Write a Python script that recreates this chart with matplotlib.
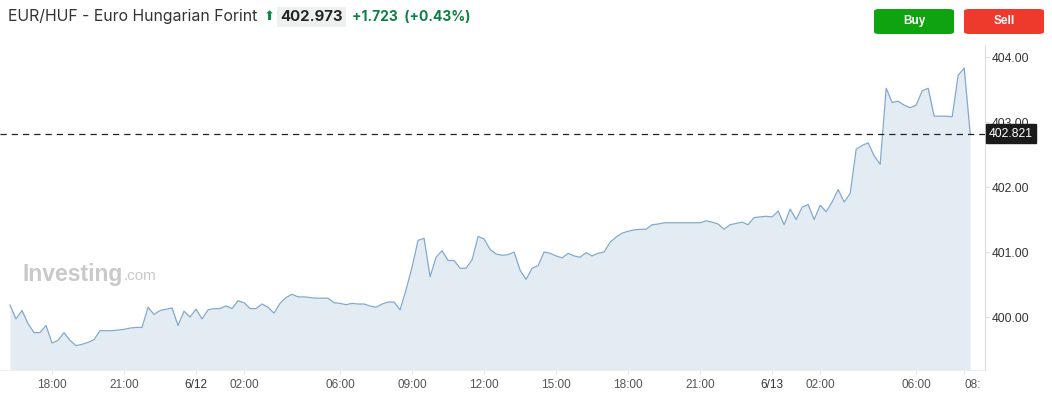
import matplotlib
matplotlib.use('Agg')
import matplotlib.pyplot as plt
import pandas as pd
from matplotlib.patches import FancyBboxPatch

# EUR/HUF, 15 minute closes (6/11 16:15 -> 6/13 08:15)
start = '2024-06-11 16:15'
prices = [
    400.185, 399.97, 400.10, 399.90, 399.76, 399.76, 399.87, 399.60, 399.64, 399.76,
    399.64, 399.56, 399.58, 399.61, 399.65, 399.79, 399.79, 399.79, 399.80, 399.81,
    399.83, 399.84, 399.84, 400.15, 400.04, 400.10, 400.12, 400.14, 399.87, 400.09,
    400.00, 400.12, 399.97, 400.11, 400.13, 400.13, 400.17, 400.13, 400.25, 400.22,
    400.13, 400.13, 400.20, 400.15, 400.06, 400.21, 400.30, 400.35, 400.31, 400.31,
    400.30, 400.29, 400.29, 400.29, 400.22, 400.21, 400.19, 400.21, 400.20, 400.20,
    400.17, 400.15, 400.20, 400.23, 400.23, 400.11, 400.42, 400.77, 401.18, 401.21,
    400.62, 400.92, 401.02, 400.87, 400.87, 400.75, 400.75, 400.88, 401.24, 401.20,
    401.04, 400.97, 400.95, 400.96, 401.00, 400.72, 400.58, 400.75, 400.79, 401.00,
    400.98, 400.94, 400.91, 400.98, 400.94, 400.92, 400.99, 400.94, 400.98, 401.00,
    401.15, 401.23, 401.29, 401.32, 401.34, 401.35, 401.35, 401.42, 401.43, 401.45,
    401.45, 401.45, 401.45, 401.45, 401.45, 401.45, 401.48, 401.46, 401.43, 401.35,
    401.42,
    401.44, 401.46, 401.42, 401.53, 401.54, 401.55, 401.54, 401.63, 401.42, 401.66,
    401.50, 401.69, 401.73, 401.50, 401.72, 401.62, 401.77, 401.96, 401.77, 401.90,
    402.58, 402.64, 402.68, 402.48, 402.35, 403.52, 403.30, 403.32, 403.26, 403.22,
    403.26, 403.48, 403.52, 403.09, 403.09, 403.09, 403.08, 403.72, 403.83, 402.821,
]
last_price = 402.821

x_ticks = ['2024-06-11 18:00', '2024-06-11 21:00', '2024-06-12 00:00', '2024-06-12 02:00',
           '2024-06-12 06:00', '2024-06-12 09:00', '2024-06-12 12:00', '2024-06-12 15:00',
           '2024-06-12 18:00', '2024-06-12 21:00', '2024-06-13 00:00', '2024-06-13 02:00',
           '2024-06-13 06:00', '2024-06-13 08:00']
x_labels = ['18:00', '21:00', '6/12', '02:00', '06:00', '09:00', '12:00', '15:00',
            '18:00', '21:00', '6/13', '02:00', '06:00', '08:']
y_ticks = [400, 401, 402, 403, 404]

times = pd.date_range(start, periods=len(prices), freq='15min')

W, H = 1052, 420
fig = plt.figure(figsize=(W / 100, H / 100), dpi=100)
fig.patch.set_facecolor('white')

# plot area in pixels: x 0..985, y 45..370
ax = fig.add_axes([0, 1 - 370 / H, 985 / W, 325 / H])
ax.fill_between(times, prices, 399.0, color='#e3ecf2', lw=0)
ax.plot(times, prices, color='#82a9ce', lw=0.9)
ax.axhline(last_price, color='#222222', lw=0.9, ls=(0, (5, 4)))

ax.set_xlim(times[0] - pd.Timedelta(minutes=25), times[-1] + pd.Timedelta(minutes=37))
ax.set_ylim(399.185, 404.185)

ax.yaxis.tick_right()
ax.set_yticks(y_ticks)
ax.set_yticklabels(['%.2f' % v for v in y_ticks], fontsize=8.7, color='#333333',
                   family='Liberation Sans')
ax.tick_params(axis='y', length=3, color='#dddddd', pad=2)

ax.set_xticks(pd.to_datetime(x_ticks))
ax.set_xticklabels(x_labels, fontsize=8.5, color='#555555', family='Liberation Sans')
ax.tick_params(axis='x', length=3, color='#e6e6e6', pad=3.5)
for lab in ax.get_xticklabels():
    if '/' in lab.get_text():
        lab.set_color('#333333')
ax.get_xticklabels()[-1].set_ha('left')

for s in ['top', 'left']:
    ax.spines[s].set_visible(False)
ax.spines['right'].set_color('#dddddd')
ax.spines['bottom'].set_color('#eeeeee')
ax.set_facecolor('white')

# last price tag
ax.text(1.004, last_price, '%.3f' % last_price, transform=ax.get_yaxis_transform(),
        va='center', ha='left', fontsize=8.7, color='white', family='Liberation Sans',
        bbox=dict(boxstyle='square,pad=0.28', fc='#1b1b1b', ec='#1b1b1b'))

# watermark
fig.text(22 / W, 1 - 274 / H, 'Investing', fontsize=16.5, fontweight='bold',
         color='#c9c9c9', family='Liberation Sans', va='center')
fig.text(124 / W, 1 - 276 / H, '.com', fontsize=11, color='#c9c9c9',
         family='Liberation Sans', va='center')

# header
hy = 1 - 17 / H
fig.text(8 / W, hy, 'EUR/HUF - Euro Hungarian Forint', fontsize=11.4, color='#333333',
         family='Inter', va='center')
fig.text(264 / W, hy, '\u2B06', fontsize=9.5, color='#0a8a45', family='DejaVu Sans', va='center')
fig.text(280 / W, hy, '402.973', fontsize=10.8, fontweight='bold', color='#232526',
         family='Inter', va='center',
         bbox=dict(boxstyle='square,pad=0.2', fc='#eef0f0', ec='none'))
fig.text(352 / W, hy, '+1.723  (+0.43%)', fontsize=10, fontweight='bold', color='#0a8045',
         family='Inter', va='center')

# buttons
for x0, col, txt in [(874, '#0fa30f', 'Buy'), (964, '#ee3a2c', 'Sell')]:
    fig.add_artist(FancyBboxPatch((x0 / W, 1 - 34 / H), 80 / W, 25 / H,
                                  boxstyle='round,pad=0,rounding_size=0.005',
                                  transform=fig.transFigure, fc=col, ec='none'))
    fig.text((x0 + 40) / W, 1 - 21 / H, txt, fontsize=8.5, fontweight='bold',
             color='white', family='Liberation Sans', ha='center', va='center')

fig.savefig('out.png', dpi=100)
